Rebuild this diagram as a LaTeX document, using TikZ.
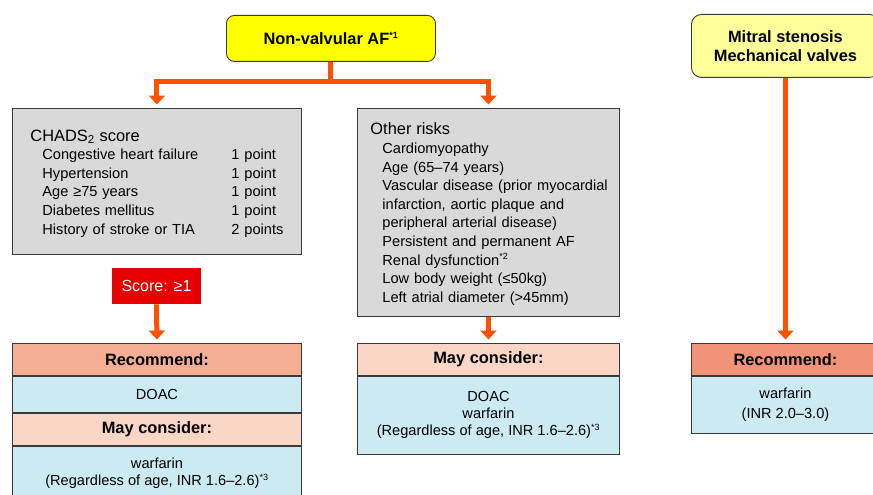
\documentclass[tikz,border=0pt]{standalone}
\usepackage{fontspec}
\setmainfont{Liberation Sans}
\usetikzlibrary{positioning,arrows.meta}
\definecolor{flowor}{RGB}{255,80,0}
\definecolor{edge}{RGB}{58,58,58}
\definecolor{sunny}{RGB}{255,255,0}
\definecolor{palesun}{RGB}{255,255,153}
\definecolor{riskgrey}{RGB}{217,217,217}
\definecolor{scorered}{RGB}{230,0,0}
\definecolor{rechead}{RGB}{244,174,148}
\definecolor{recheaddark}{RGB}{240,147,120}
\definecolor{mayhead}{RGB}{249,214,198}
\definecolor{drugblue}{RGB}{204,234,241}
\newcommand\supnote[1]{\textsuperscript{\fontsize{9}{9}\selectfont #1}}

\begin{document}
\begin{tikzpicture}[x=1pt,y=-1pt,
    box/.style={draw=edge,line width=0.9pt,inner sep=0pt,align=center,
      font=\fontsize{14.6}{17}\selectfont},
    head/.style={box,font=\fontsize{16.4}{19.3}\selectfont\bfseries,minimum height=32pt},
    riskbox/.style={box,fill=riskgrey,anchor=north west,align=left,
      font=\fontsize{14.6}{18.6}\selectfont},
    flow/.style={draw=flowor,line width=5pt,shorten >=3.5pt,
      -{Triangle[width=16pt,length=9pt]}}]
  \useasboundingbox (0,0) rectangle (873,495);
  \clip (0,0) rectangle (873,495);
  \node[head,fill=sunny,rounded corners=8pt,minimum width=209pt,minimum height=46pt,
    anchor=north west] (nvaf) at (226,15) {Non-valvular AF\supnote{*1}};
  \node[head,fill=palesun,rounded corners=10pt,minimum width=188pt,minimum height=63pt,
    anchor=north west] (ms) at (691,14) {Mitral stenosis\\Mechanical valves};
  \node[riskbox,minimum width=289pt,minimum height=146pt,text width=253pt,inner xsep=18pt]
    (chads) at (12,108) {\raisebox{-2.5pt}[\height][\depth]{%
    \begin{tabular}{@{\hspace{12pt}}p{189pt}@{}l@{}}
      \multicolumn{2}{@{}l@{}}{\fontsize{16.4}{19}\selectfont CHADS\textsubscript{2} score}\\
      Congestive heart failure & 1 point\\
      Hypertension & 1 point\\
      Age ≥75 years & 1 point\\
      Diabetes mellitus & 1 point\\
      History of stroke or TIA & 2 points
    \end{tabular}}};
  \node[riskbox,minimum width=262pt,minimum height=208pt,text width=236pt,inner xsep=13pt]
    (other) at (357,108) {\raisebox{-2.5pt}[\height][\depth]{%
    \begin{tabular}{@{\hspace{12pt}}l@{}}
      \multicolumn{1}{@{}l@{}}{\fontsize{16.4}{19}\selectfont Other risks}\\
      Cardiomyopathy\\
      Age (65--74 years)\\
      Vascular disease (prior myocardial\\
      infarction, aortic plaque and\\
      peripheral arterial disease)\\
      Persistent and permanent AF\\
      Renal dysfunction\supnote{*2}\\
      Low body weight (≤50kg)\\
      Left atrial diameter (>45mm)
    \end{tabular}}};
  \node[box,draw=none,fill=scorered,text=white,font=\fontsize{16}{18}\selectfont,
    minimum width=89pt,minimum height=36pt] (score) at (156.5,286) {Score: ≥1};

  \node[head,fill=rechead,minimum width=289pt,anchor=north west] (rec_l) at (12,343) {Recommend:};
  \node[box,fill=drugblue,minimum width=289pt,minimum height=36pt,below=0pt of rec_l] (doac_l) {DOAC};
  \node[head,fill=mayhead,minimum width=289pt,below=0pt of doac_l] (may_l) {May consider:};
  \node[box,fill=drugblue,minimum width=289pt,minimum height=54pt,below=0pt of may_l] (warf_l)
    {warfarin\\(Regardless of age, INR 1.6--2.6)\supnote{*3}};

  \node[head,fill=mayhead,minimum width=262pt,anchor=north west] (may_m) at (357,343) {May consider:};
  \node[box,fill=drugblue,minimum width=262pt,minimum height=78pt,below=0pt of may_m] (drugs_m)
    {DOAC\\warfarin\\(Regardless of age, INR 1.6--2.6)\supnote{*3}};

  \node[head,fill=recheaddark,minimum width=188pt,anchor=north west] (rec_r) at (691,343) {Recommend:};
  \node[box,fill=drugblue,minimum width=188pt,minimum height=57pt,below=0pt of rec_r,
    font=\fontsize{14.6}{19.5}\selectfont] (warf_r) {warfarin\\(INR 2.0--3.0)};

  \coordinate (fork) at (nvaf.south |- 0,82);
  \draw[flow] (nvaf.south) -- (fork) -| (chads.north);
  \draw[flow] (fork) -| (other.north);
  \draw[flow] (score.south) -- (rec_l.north);
  \draw[flow] (other.south) -- (may_m.north);
  \draw[flow] (ms.south) -- (rec_r.north);
\end{tikzpicture}
\end{document}
